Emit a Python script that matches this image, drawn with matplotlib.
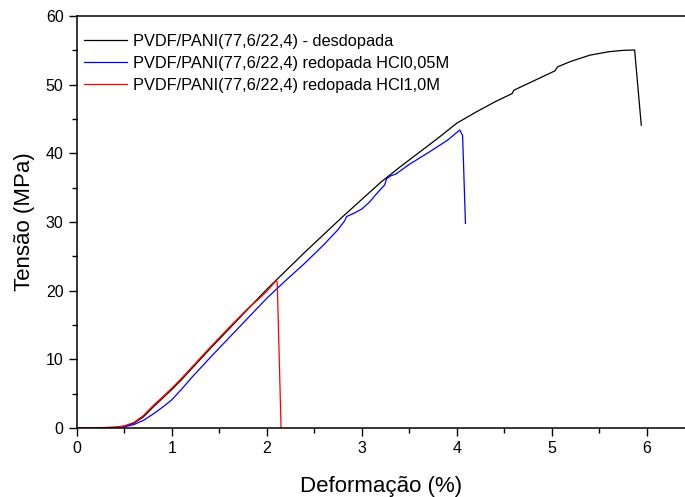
import matplotlib
matplotlib.use("Agg")
import matplotlib.pyplot as plt
from matplotlib.ticker import MultipleLocator

plt.rcParams['font.family'] = ['Liberation Sans', 'DejaVu Sans']

# Stress-strain curves (strain in %, stress in MPa)
desdopada_x = [0, 0.2, 0.4, 0.5, 0.6, 0.7, 0.8, 0.9, 1.0, 1.1, 1.2, 1.4, 1.6, 1.8, 2.0,
               2.2, 2.4, 2.6, 2.8, 3.0, 3.2, 3.4, 3.6, 3.8, 4.0, 4.2, 4.4, 4.58, 4.6,
               4.8, 5.03, 5.06, 5.2, 5.4, 5.6, 5.75, 5.87, 5.94]
desdopada_y = [0, 0.02, 0.1, 0.25, 0.7, 1.6, 3.0, 4.3, 5.6, 7.0, 8.5, 11.5, 14.4, 17.3, 20.2,
               22.9, 25.6, 28.2, 30.8, 33.3, 35.8, 38.0, 40.1, 42.2, 44.4, 46.0, 47.5, 48.7, 49.2,
               50.5, 52.0, 52.6, 53.4, 54.3, 54.8, 55.0, 55.05, 44.1]

hcl005_x = [0, 0.2, 0.4, 0.5, 0.6, 0.7, 0.8, 0.9, 1.0, 1.1, 1.2, 1.4, 1.6, 1.8, 2.0,
            2.2, 2.4, 2.6, 2.75, 2.82, 2.84, 2.92, 3.0, 3.08, 3.16, 3.24, 3.26, 3.3,
            3.36, 3.5, 3.71, 3.9, 4.03, 4.06, 4.09]
hcl005_y = [0, 0.01, 0.07, 0.18, 0.5, 1.1, 2.0, 3.0, 4.1, 5.6, 7.2, 10.2, 13.1, 16.0, 18.9,
            21.5, 24.0, 26.7, 28.9, 30.2, 30.8, 31.3, 31.9, 32.9, 34.2, 35.4, 36.3, 36.7,
            37.0, 38.4, 40.2, 41.9, 43.4, 42.6, 29.8]

hcl10_x = [0, 0.2, 0.4, 0.5, 0.6, 0.7, 0.8, 0.9, 1.0, 1.1, 1.2, 1.4, 1.6, 1.8, 1.9,
           2.0, 2.05, 2.1, 2.11, 2.15]
hcl10_y = [0, 0.03, 0.12, 0.3, 0.8, 1.8, 3.2, 4.5, 5.8, 7.2, 8.7, 11.7, 14.6, 17.4, 18.6,
           19.9, 20.7, 21.5, 21.1, 0]

labels = ["PVDF/PANI(77,6/22,4) - desdopada",
          "PVDF/PANI(77,6/22,4) redopada HCl0,05M",
          "PVDF/PANI(77,6/22,4) redopada HCl1,0M"]

fig = plt.figure(figsize=(6.85, 4.97), dpi=100)
ax = fig.add_axes([0.112, 0.1388, 0.888, 0.829])

ax.plot(desdopada_x, desdopada_y, color='#000000', lw=0.9, label=labels[0])
ax.plot(hcl005_x, hcl005_y, color='#0000ff', lw=0.9, label=labels[1])
ax.plot(hcl10_x, hcl10_y, color='#ff0000', lw=0.9, label=labels[2])

ax.set_xlim(0, 6.4)
ax.set_ylim(0, 60)
ax.xaxis.set_major_locator(MultipleLocator(1))
ax.xaxis.set_minor_locator(MultipleLocator(0.5))
ax.yaxis.set_major_locator(MultipleLocator(10))
ax.yaxis.set_minor_locator(MultipleLocator(5))
ax.tick_params(which='both', direction='out', width=1.0, labelsize=11.5, top=False, right=False)
ax.tick_params(which='major', length=6)
ax.tick_params(which='minor', length=3.5)
for s in ('left', 'bottom', 'top'):
    ax.spines[s].set_linewidth(1.1)
ax.spines['right'].set_visible(False)

ax.set_xlabel("Deformação (%)", fontsize=16, labelpad=14)
ax.set_ylabel("Tensão (MPa)", fontsize=16, labelpad=8)

ax.legend(loc='upper left', bbox_to_anchor=(-0.0066, 0.985), frameon=False,
          fontsize=11.8, handlelength=2.6, handletextpad=0.4, labelspacing=0.43,
          borderaxespad=0.3)

fig.savefig("out.png", dpi=100)
